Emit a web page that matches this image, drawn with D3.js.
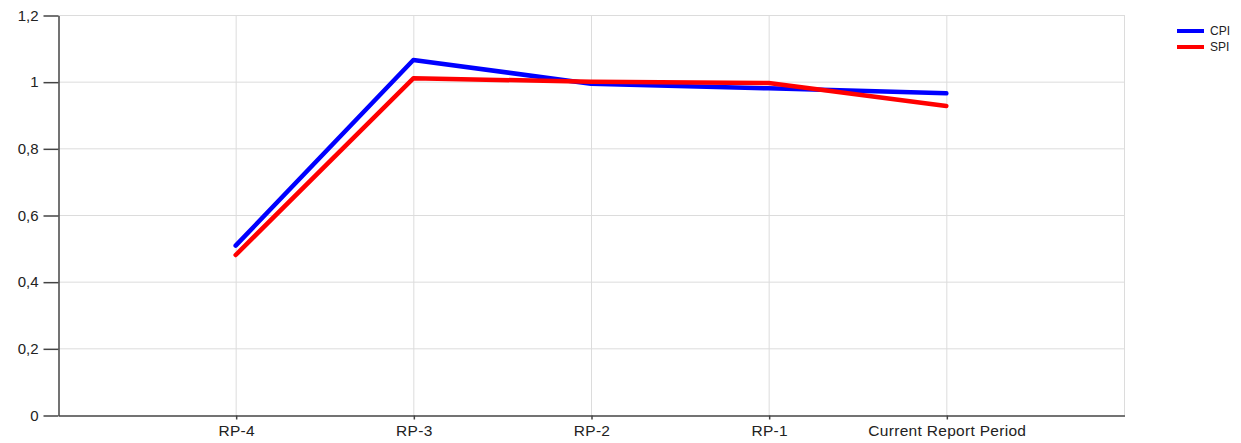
<!DOCTYPE html>
<html lang="en">
<head>
    <meta charset="UTF-8">
    <title>CPI / SPI</title>
    <script src="https://cdn.jsdelivr.net/npm/d3@7/dist/d3.min.js"></script>
    <style>
        body { margin: 0; background: #fff; }
        svg { display: block; font-family: "Liberation Sans", Arial, sans-serif; }
        .grid line { stroke: #dcdcdc; stroke-width: 1px; }
        .axis path, .axis line { stroke: #444; stroke-width: 1.5px; }
        .axis text { fill: #222; font-size: 15px; }
        .x-axis text { font-size: 15.5px; letter-spacing: 0.3px; }
        .series { fill: none; stroke-width: 4.5px; stroke-linejoin: round; stroke-linecap: round; }
        .legend text { font-size: 12px; fill: #222; }
    </style>
</head>
<body>
<svg width="1241" height="443"></svg>
<script>
    var categories = ['RP-4', 'RP-3', 'RP-2', 'RP-1', 'Current Report Period'];
    var cpiValues = [0.508, 1.065, 0.994, 0.98, 0.965];
    var spiValues = [0.48, 1.01, 1.0, 0.996, 0.927];
    var yTicks = [0, 0.2, 0.4, 0.6, 0.8, 1, 1.2];
    var seriesNames = ['CPI', 'SPI'];
    var seriesColors = ['#0000ff', '#ff0000'];

    var svg = d3.select('svg'),
        plotLeft = 58, plotRight = 1124, plotTop = 15, plotBottom = 415;

    // categories sit on slots 1..5 of a 0..6 axis
    var x = d3.scaleLinear().domain([0, categories.length + 1]).range([plotLeft, plotRight]),
        y = d3.scaleLinear().domain([0, 1.2]).range([plotBottom, plotTop]);

    var fmt = function(d) { return String(d).replace('.', ','); };

    var grid = svg.append('g').classed('grid', true);
    grid.selectAll('.h')
        .data(yTicks.filter(function(d) { return d > 0; }))
        .enter().append('line')
        .attr('x1', plotLeft).attr('x2', plotRight)
        .attr('y1', function(d) { return y(d) + 0.5; })
        .attr('y2', function(d) { return y(d) + 0.5; });
    grid.selectAll('.v')
        .data(categories)
        .enter().append('line')
        .attr('x1', function(d, i) { return x(i + 1) + 0.5; })
        .attr('x2', function(d, i) { return x(i + 1) + 0.5; })
        .attr('y1', plotTop).attr('y2', plotBottom);
    grid.append('line')
        .attr('x1', plotRight + 0.5).attr('x2', plotRight + 0.5)
        .attr('y1', plotTop).attr('y2', plotBottom);

    var yAxis = d3.axisLeft(y).tickValues(yTicks).tickFormat(fmt).tickSize(15).tickSizeOuter(0).tickPadding(5);
    svg.append('g').classed('axis', true)
        .attr('transform', 'translate(' + (plotLeft + 0.5) + ',0.5)')
        .call(yAxis);

    var xAxis = d3.axisBottom(x)
        .tickValues(categories.map(function(d, i) { return i + 1; }))
        .tickFormat(function(d) { return categories[d - 1]; })
        .tickSize(4).tickSizeOuter(0).tickPadding(5);
    svg.append('g').classed('axis x-axis', true)
        .attr('transform', 'translate(0.5,' + (plotBottom + 0.5) + ')')
        .call(xAxis);

    var line = d3.line()
        .x(function(d, i) { return x(i + 1); })
        .y(function(d) { return y(d); });

    [cpiValues, spiValues].forEach(function(vals, k) {
        svg.append('path')
            .classed('series', true)
            .attr('stroke', seriesColors[k])
            .attr('d', line(vals));
    });

    var legend = svg.append('g').classed('legend', true);
    seriesNames.forEach(function(name, k) {
        var ly = 31 + k * 16;
        legend.append('line')
            .attr('x1', 1177).attr('x2', 1204)
            .attr('y1', ly).attr('y2', ly)
            .attr('stroke', seriesColors[k]).attr('stroke-width', 4);
        legend.append('text')
            .attr('x', 1210).attr('y', ly + 4)
            .text(name);
    });
</script>
</body>
</html>
